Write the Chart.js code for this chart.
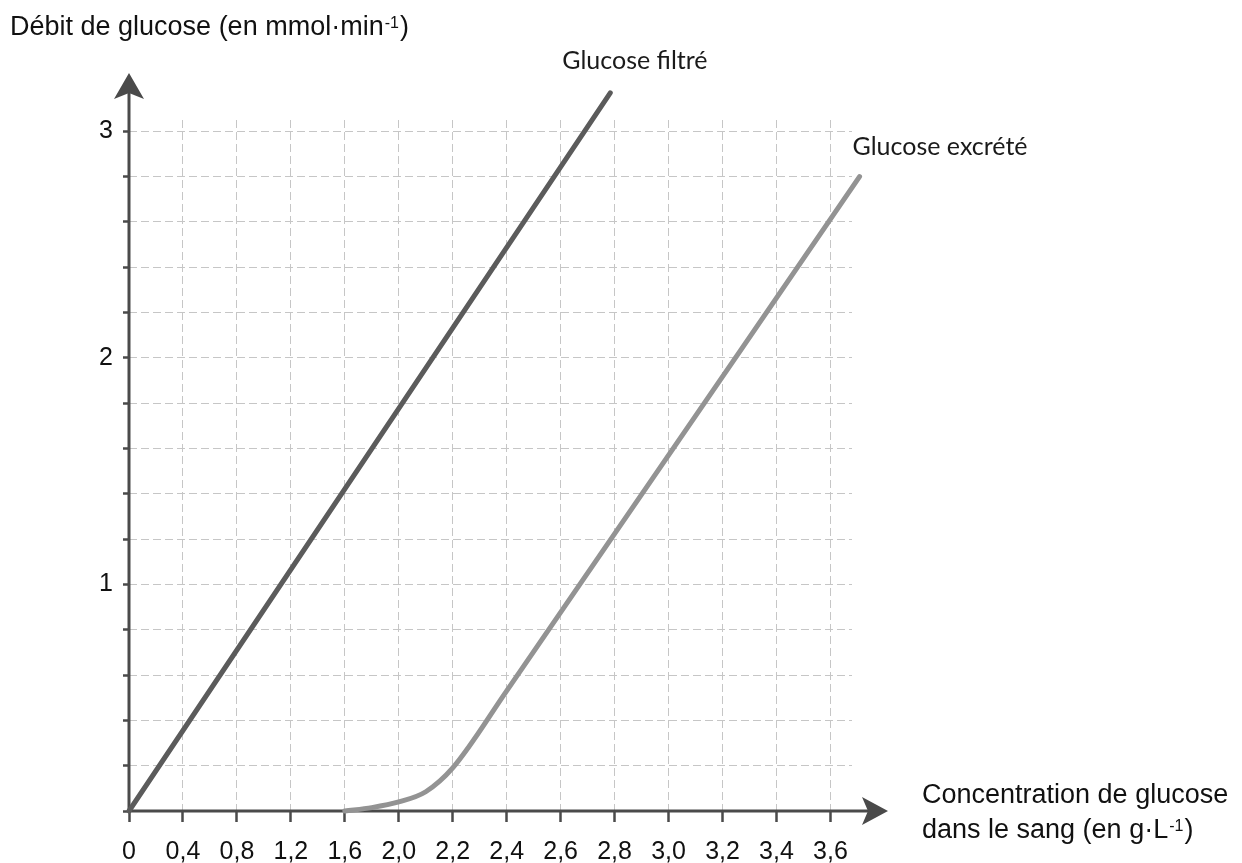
<!DOCTYPE html>
<html lang="fr">
<head>
<meta charset="utf-8">
<title>Débit de glucose</title>
<script src="https://cdn.jsdelivr.net/npm/chart.js@4/dist/chart.umd.min.js"></script>
<style>
  html, body { margin: 0; padding: 0; background: #ffffff; }
  #wrap { position: relative; width: 1242px; height: 863px; }
</style>
</head>
<body>
<div id="wrap"><canvas id="c"></canvas></div>
<script>
// ---- Data ----
// Graduations of the x axis as printed (evenly spaced on the paper)
const xTickValues = [0, 0.4, 0.8, 1.2, 1.6, 2.0, 2.2, 2.4, 2.6, 2.8, 3.0, 3.2, 3.4, 3.6];
const xTickLabels = ['0', '0,4', '0,8', '1,2', '1,6', '2,0', '2,2', '2,4', '2,6', '2,8', '3,0', '3,2', '3,4', '3,6'];
const yTickLabels = ['', '1', '2', '3'];

// Glucose filtré (concentration g/L, débit mmol/min)
const filtreConc  = [0, 2.784];
const filtreDebit = [0, 3.17];

// Glucose excrété
const excreteConc  = [1.6, 1.8, 2.0, 2.1, 2.2, 2.4, 3.708];
const excreteDebit = [0, 0.015, 0.04, 0.085, 0.19, 0.53, 2.80];

const seriesNames = ['Glucose filtré', 'Glucose excrété'];
const yTitle = ['Débit de glucose (en mmol·min', '-1', ')'];
const xTitle1 = 'Concentration de glucose';
const xTitle2 = ['dans le sang (en g·L', '-1', ')'];

// position of a concentration along the printed graduation
function toPos(c) {
  const n = xTickValues.length;
  for (let i = 0; i < n - 1; i++) {
    if (c <= xTickValues[i + 1]) {
      return i + (c - xTickValues[i]) / (xTickValues[i + 1] - xTickValues[i]);
    }
  }
  const step = xTickValues[n - 1] - xTickValues[n - 2];
  return (n - 1) + (c - xTickValues[n - 1]) / step;
}
function pts(xs, ys) { return xs.map((c, i) => ({ x: toPos(c), y: ys[i] })); }

const TICK_FONT = { family: "'Liberation Sans', Arial, sans-serif", size: 25 };
const AXIS_COLOR = '#4a4a4a';

function drawSupText(ctx, parts, x, y, size, supSize) {
  ctx.font = size + "px 'Liberation Sans', Arial, sans-serif";
  ctx.fillText(parts[0], x, y);
  let w = ctx.measureText(parts[0]).width;
  ctx.font = supSize + "px 'Liberation Sans', Arial, sans-serif";
  ctx.fillText(parts[1], x + w + 1, y - 7);
  w += ctx.measureText(parts[1]).width + 2;
  ctx.font = size + "px 'Liberation Sans', Arial, sans-serif";
  ctx.fillText(parts[2], x + w, y);
}

const axesPlugin = {
  id: 'axesArrows',
  beforeDatasetsDraw(chart) {
    const { ctx, scales: { x, y }, chartArea } = chart;
    const x0 = x.getPixelForValue(0);
    const y0 = y.getPixelForValue(0);
    ctx.save();
    ctx.strokeStyle = AXIS_COLOR;
    ctx.fillStyle = AXIS_COLOR;
    ctx.lineWidth = 3;
    // x axis
    const xTip = chartArea.right + 36;
    ctx.beginPath();
    ctx.moveTo(x0, y0);
    ctx.lineTo(xTip - 10, y0);
    ctx.stroke();
    ctx.beginPath();
    ctx.moveTo(xTip, y0);
    ctx.lineTo(xTip - 26, y0 - 14);
    ctx.lineTo(xTip - 20, y0);
    ctx.lineTo(xTip - 26, y0 + 14);
    ctx.closePath();
    ctx.fill();
    // y axis
    const yTip = chartArea.top - 47;
    ctx.beginPath();
    ctx.moveTo(x0, y0);
    ctx.lineTo(x0, yTip + 10);
    ctx.stroke();
    ctx.beginPath();
    ctx.moveTo(x0, yTip);
    ctx.lineTo(x0 - 15, yTip + 26);
    ctx.lineTo(x0, yTip + 20);
    ctx.lineTo(x0 + 15, yTip + 26);
    ctx.closePath();
    ctx.fill();
    ctx.restore();
  },
  afterDraw(chart) {
    const { ctx, scales: { x, y } } = chart;
    ctx.save();
    ctx.fillStyle = '#111111';
    ctx.textBaseline = 'alphabetic';
    ctx.textAlign = 'left';
    // y title
    drawSupText(ctx, yTitle, 10, 35, 27, 16);
    // x title
    ctx.font = "27px 'Liberation Sans', Arial, sans-serif";
    ctx.fillText(xTitle1, 922, 803);
    drawSupText(ctx, xTitle2, 922, 838, 27, 16);
    // series labels near line ends
    ctx.font = "25px Lato, 'Open Sans', sans-serif";
    ctx.fillStyle = '#1a1a1a';
    const fEnd = chart.data.datasets[0].data[chart.data.datasets[0].data.length - 1];
    const eEnd = chart.data.datasets[1].data[chart.data.datasets[1].data.length - 1];
    ctx.fillText(seriesNames[0], x.getPixelForValue(fEnd.x) - 48, y.getPixelForValue(fEnd.y) - 24);
    ctx.fillText(seriesNames[1], x.getPixelForValue(eEnd.x) - 7, y.getPixelForValue(eEnd.y) - 22);
    ctx.restore();
  }
};

new Chart(document.getElementById('c'), {
  type: 'line',
  data: {
    datasets: [
      {
        label: seriesNames[0],
        data: pts(filtreConc, filtreDebit),
        borderColor: '#5b5b5b',
        borderWidth: 5,
        pointRadius: 0,
        borderCapStyle: 'round',
        clip: false,
        tension: 0
      },
      {
        label: seriesNames[1],
        data: pts(excreteConc, excreteDebit),
        borderColor: '#939393',
        borderWidth: 5,
        pointRadius: 0,
        borderCapStyle: 'round',
        cubicInterpolationMode: 'monotone',
        clip: false
      }
    ]
  },
  options: {
    responsive: true,
    maintainAspectRatio: false,
    animation: false,
    devicePixelRatio: 1,
    layout: { padding: { left: 0, top: 120, right: 390, bottom: 0 } },
    plugins: { legend: { display: false }, tooltip: { enabled: false }, title: { display: false } },
    scales: {
      x: {
        type: 'linear',
        min: 0,
        max: 13.4,
        afterFit: (s) => { s.height = 52; },
        border: { display: false, dash: [8, 4] },
        grid: {
          color: '#c6c6c6',
          lineWidth: 1,
          tickColor: '#4a4a4a',
          tickWidth: 2.5,
          tickLength: 11
        },
        ticks: {
          stepSize: 1,
          includeBounds: false,
          autoSkip: false,
          maxRotation: 0,
          padding: 15,
          color: '#111111',
          font: TICK_FONT,
          callback: (v) => {
            const i = Math.round(v);
            return Math.abs(v - i) < 1e-6 && xTickLabels[i] !== undefined ? xTickLabels[i] : '';
          }
        }
      },
      y: {
        type: 'linear',
        min: 0,
        max: 3.05,
        afterFit: (s) => { s.width = 129; },
        border: { display: false, dash: [8, 4] },
        grid: {
          color: '#c6c6c6',
          lineWidth: 1,
          tickColor: '#4a4a4a',
          tickWidth: 2.5,
          tickLength: 6
        },
        ticks: {
          stepSize: 0.2,
          includeBounds: false,
          autoSkip: false,
          padding: 10,
          color: '#111111',
          font: TICK_FONT,
          callback: (v) => {
            const i = Math.round(v);
            return Math.abs(v - i) < 1e-6 ? yTickLabels[i] : '';
          }
        }
      }
    }
  },
  plugins: [axesPlugin]
});
</script>
</body>
</html>
